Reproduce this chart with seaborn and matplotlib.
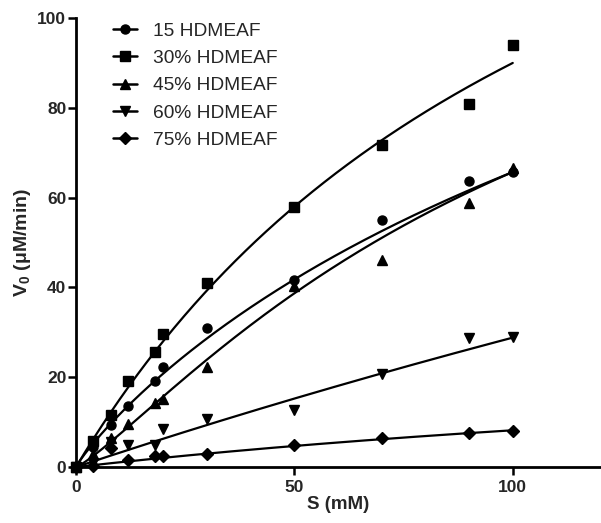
import numpy as np
import pandas as pd
import matplotlib
matplotlib.use("Agg")
import matplotlib.pyplot as plt
from matplotlib.lines import Line2D
import seaborn as sns

# ---- data ----
S = [0, 4, 8, 12, 18, 20, 30, 50, 70, 90, 100]
series_names = ["15 HDMEAF", "30% HDMEAF", "45% HDMEAF", "60% HDMEAF", "75% HDMEAF"]
v15 = [0, 4.5, 9.4, 13.7, 19.2, 22.3, 30.9, 41.6, 55.0, 63.7, 65.6]
v30 = [0, 5.8, 11.7, 19.2, 25.6, 29.6, 41.0, 57.9, 71.7, 80.9, 93.9]
v45 = [0, 2.8, 6.5, 9.6, 14.2, 15.2, 22.2, 40.4, 46.2, 58.8, 66.5]
v60 = [0, 1.0, 5.5, 4.9, 5.0, 8.5, 10.6, 12.7, 20.8, 28.7, 29.0]
v75 = [0, 0.2, 4.3, 1.5, 2.4, 2.4, 3.0, 4.9, 6.5, 7.5, 8.1]
# fitted-curve parameters (Hill form)
fit_vmax = [193.7, 200.7, 142.3, 262.0, 32.1]
fit_k = [209.8, 123.0, 113.6, 809.0, 292.0]
fit_n = [0.9, 1.0, 1.2, 1.0, 1.0]
markers = ["o", "s", "^", "v", "D"]
marker_sizes = [6.5, 6.5, 6.5, 6.5, 6.0]

values = [v15, v30, v45, v60, v75]

sns.set_theme(style="ticks")
plt.rcParams["font.family"] = ["Liberation Sans", "DejaVu Sans"]
plt.rcParams["mathtext.fontset"] = "custom"
plt.rcParams["mathtext.rm"] = "Liberation Sans:bold"
plt.rcParams["mathtext.it"] = "Liberation Sans:bold"
plt.rcParams["mathtext.bf"] = "Liberation Sans:bold"

fig = plt.figure(figsize=(6.01, 5.23), dpi=100)
ax = fig.add_axes([0.1265, 0.107, 0.872, 0.8585])

pts = pd.DataFrame({
    "S": np.tile(S, len(series_names)),
    "V": np.concatenate(values),
    "series": np.repeat(series_names, len(S)),
})

s_fine = np.linspace(0, 100, 300)
curve_rows = []
for name, vm, k, n in zip(series_names, fit_vmax, fit_k, fit_n):
    v = vm * s_fine ** n / (k ** n + s_fine ** n)
    curve_rows.append(pd.DataFrame({"S": s_fine, "V": v, "series": name}))
curves = pd.concat(curve_rows, ignore_index=True)

for name in series_names:
    sns.lineplot(data=curves[curves.series == name], x="S", y="V", ax=ax,
                 color="black", linewidth=1.6, legend=False)

for name, m, ms in zip(series_names, markers, marker_sizes):
    sub = pts[pts.series == name]
    ax.plot(sub.S, sub.V, linestyle="none", marker=m, color="black",
            markersize=ms, clip_on=False, zorder=5)

ax.set_xlim(0, 120)
ax.set_ylim(0, 100)
ax.set_xticks([0, 50, 100])
ax.set_yticks([0, 20, 40, 60, 80, 100])
for lab in ax.get_xticklabels() + ax.get_yticklabels():
    lab.set_fontweight("bold")
    lab.set_fontsize(12.5)
ax.tick_params(direction="out", length=6, width=1.8, color="black")
ax.tick_params(axis="y", pad=1)
ax.tick_params(axis="x", pad=3)
for sp in ["left", "bottom"]:
    ax.spines[sp].set_linewidth(2)
    ax.spines[sp].set_color("black")
sns.despine(ax=ax)

ax.set_xlabel("S (mM)", fontsize=13.5, fontweight="bold", labelpad=1)
ax.set_ylabel("V$_0$ (μM/min)", fontsize=14, fontweight="bold", labelpad=3)

handles = [Line2D([0], [0], color="black", linewidth=1.8, marker=m, markersize=ms)
           for m, ms in zip(markers, marker_sizes)]
ax.legend(handles, series_names, loc="upper left", bbox_to_anchor=(0.056, 1.008),
          frameon=False, fontsize=13.8, handlelength=1.25, handletextpad=0.85,
          labelspacing=0.52, borderaxespad=0)

fig.savefig("out.png", dpi=100)
